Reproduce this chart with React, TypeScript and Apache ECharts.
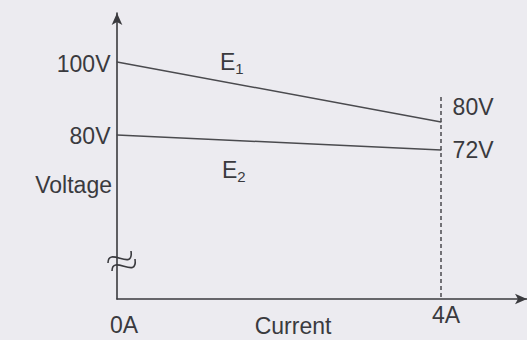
import React, { useEffect, useRef } from "react";
import * as echarts from "echarts";

const currents = [0, 4];
const e1Voltages = [100, 80];
const e2Voltages = [80, 72];
const seriesNames = ["E1", "E2"];
const xTickValues = [0, 4];

const FONT = "'Liberation Sans', Arial, sans-serif";
const INK = "#3a3a3e";
const LINE = "#4a4a4e";
const BG = "#ecebf0";

export default function App() {
  const ref = useRef<HTMLDivElement>(null);
  useEffect(() => {
    if (!ref.current) return;
    const chart = echarts.init(ref.current, null, { renderer: "svg" });
    const lbl = (pos: string, dist: number, offset: number[]) => ({
      show: true,
      position: pos,
      distance: dist,
      offset,
      formatter: (p: any) => p.value[1] + "V",
      fontFamily: FONT,
      fontSize: 23,
      color: INK,
    });
    const e1Data = e1Voltages.map((v, i) => ({
      value: [currents[i], v],
      label: i === 0 ? lbl("left", 6, [0, 2]) : lbl("right", 11, [0, -15]),
    }));
    const e2Data = e2Voltages.map((v, i) => ({
      value: [currents[i], v],
      label: i === 0 ? lbl("left", 6, [0, 1]) : lbl("right", 11, [0, 0]),
    }));
    const option: any = {
      animation: false,
      backgroundColor: BG,
      grid: { left: 117, right: 0, top: 13, bottom: 41, outerBoundsMode: "none", containLabel: false },
      xAxis: {
        type: "value",
        min: 0,
        max: 5.06,
        axisLine: {
          show: true,
          onZero: false,
          symbol: ["none", "arrow"],
          symbolSize: [8, 12],
          lineStyle: { color: INK, width: 1.6 },
        },
        axisTick: { show: false },
        splitLine: { show: false },
        axisLabel: {
          customValues: xTickValues,
          formatter: (v: number) => (v === 0 ? "{a|" + v + "A}" : "{b|" + v + "A}"),
          margin: 4,
          fontFamily: FONT,
          fontSize: 23,
          color: INK,
          rich: {
            a: { fontFamily: FONT, fontSize: 23, color: INK, padding: [10, 0, 0, 14] },
            b: { fontFamily: FONT, fontSize: 23, color: INK, padding: [0, 0, 0, 10] },
          },
        },
      },
      yAxis: [
        {
          type: "value",
          min: 21,
          max: 116.33,
          axisLine: {
            show: true,
            onZero: false,
            symbol: ["none", "arrow"],
            symbolSize: [8, 12],
            lineStyle: { color: INK, width: 1.6 },
          },
          axisTick: { show: false },
          axisLabel: { show: false },
          splitLine: { show: false },
        },
        {
          type: "value",
          min: -7.47,
          max: 145.07,
          show: false,
          axisLine: { show: false, onZero: false },
          splitLine: { show: false },
        },
      ],
      series: [
        {
          name: seriesNames[0],
          type: "line",
          yAxisIndex: 0,
          data: e1Data,
          showSymbol: true,
          symbol: "circle",
          symbolSize: 1,
          itemStyle: { color: LINE },
          lineStyle: { color: LINE, width: 1.5 },
          markLine: {
            silent: true,
            symbol: "none",
            label: { show: false },
            lineStyle: { color: LINE, width: 1.5, type: [4, 3] },
            data: [[{ coord: [currents[1], 88.3] }, { coord: [currents[1], 21] }]],
          },
        },
        {
          name: seriesNames[1],
          type: "line",
          yAxisIndex: 1,
          data: e2Data,
          showSymbol: true,
          symbol: "circle",
          symbolSize: 1,
          itemStyle: { color: LINE },
          lineStyle: { color: LINE, width: 1.5 },
        },
      ],
      graphic: [
        {
          type: "text",
          x: 220,
          y: 62,
          style: {
            text: "E{s|1}",
            fontFamily: FONT,
            fontSize: 23,
            fill: INK,
            verticalAlign: "middle",
            rich: { s: { fontFamily: FONT, fontSize: 15, fill: INK, padding: [12, 0, 0, 0] } },
          },
        },
        {
          type: "text",
          x: 222,
          y: 170,
          style: {
            text: "E{s|2}",
            fontFamily: FONT,
            fontSize: 23,
            fill: INK,
            verticalAlign: "middle",
            rich: { s: { fontFamily: FONT, fontSize: 15, fill: INK, padding: [12, 0, 0, 0] } },
          },
        },
        {
          type: "text",
          x: 112,
          y: 185,
          style: {
            text: "Voltage",
            fontFamily: FONT,
            fontSize: 23,
            fill: INK,
            align: "right",
            verticalAlign: "middle",
          },
        },
        {
          type: "text",
          x: 293,
          y: 326,
          style: {
            text: "Current",
            fontFamily: FONT,
            fontSize: 23,
            fill: INK,
            align: "center",
            verticalAlign: "middle",
          },
        },
        {
          type: "bezierCurve",
          shape: { x1: 108, y1: 263, cpx1: 108, cpy1: 246, cpx2: 134, cpy2: 272, x2: 131, y2: 251 },
          style: { stroke: INK, lineWidth: 1.6, fill: null },
        },
        {
          type: "bezierCurve",
          shape: { x1: 112, y1: 271, cpx1: 112, cpy1: 254, cpx2: 138, cpy2: 280, x2: 135, y2: 259 },
          style: { stroke: INK, lineWidth: 1.6, fill: null },
        },
      ],
    };
    chart.setOption(option);
    return () => chart.dispose();
  }, []);
  return (
    <div
      ref={ref}
      style={{ position: "fixed", left: 0, top: 0, width: 527, height: 340, background: BG }}
    />
  );
}
